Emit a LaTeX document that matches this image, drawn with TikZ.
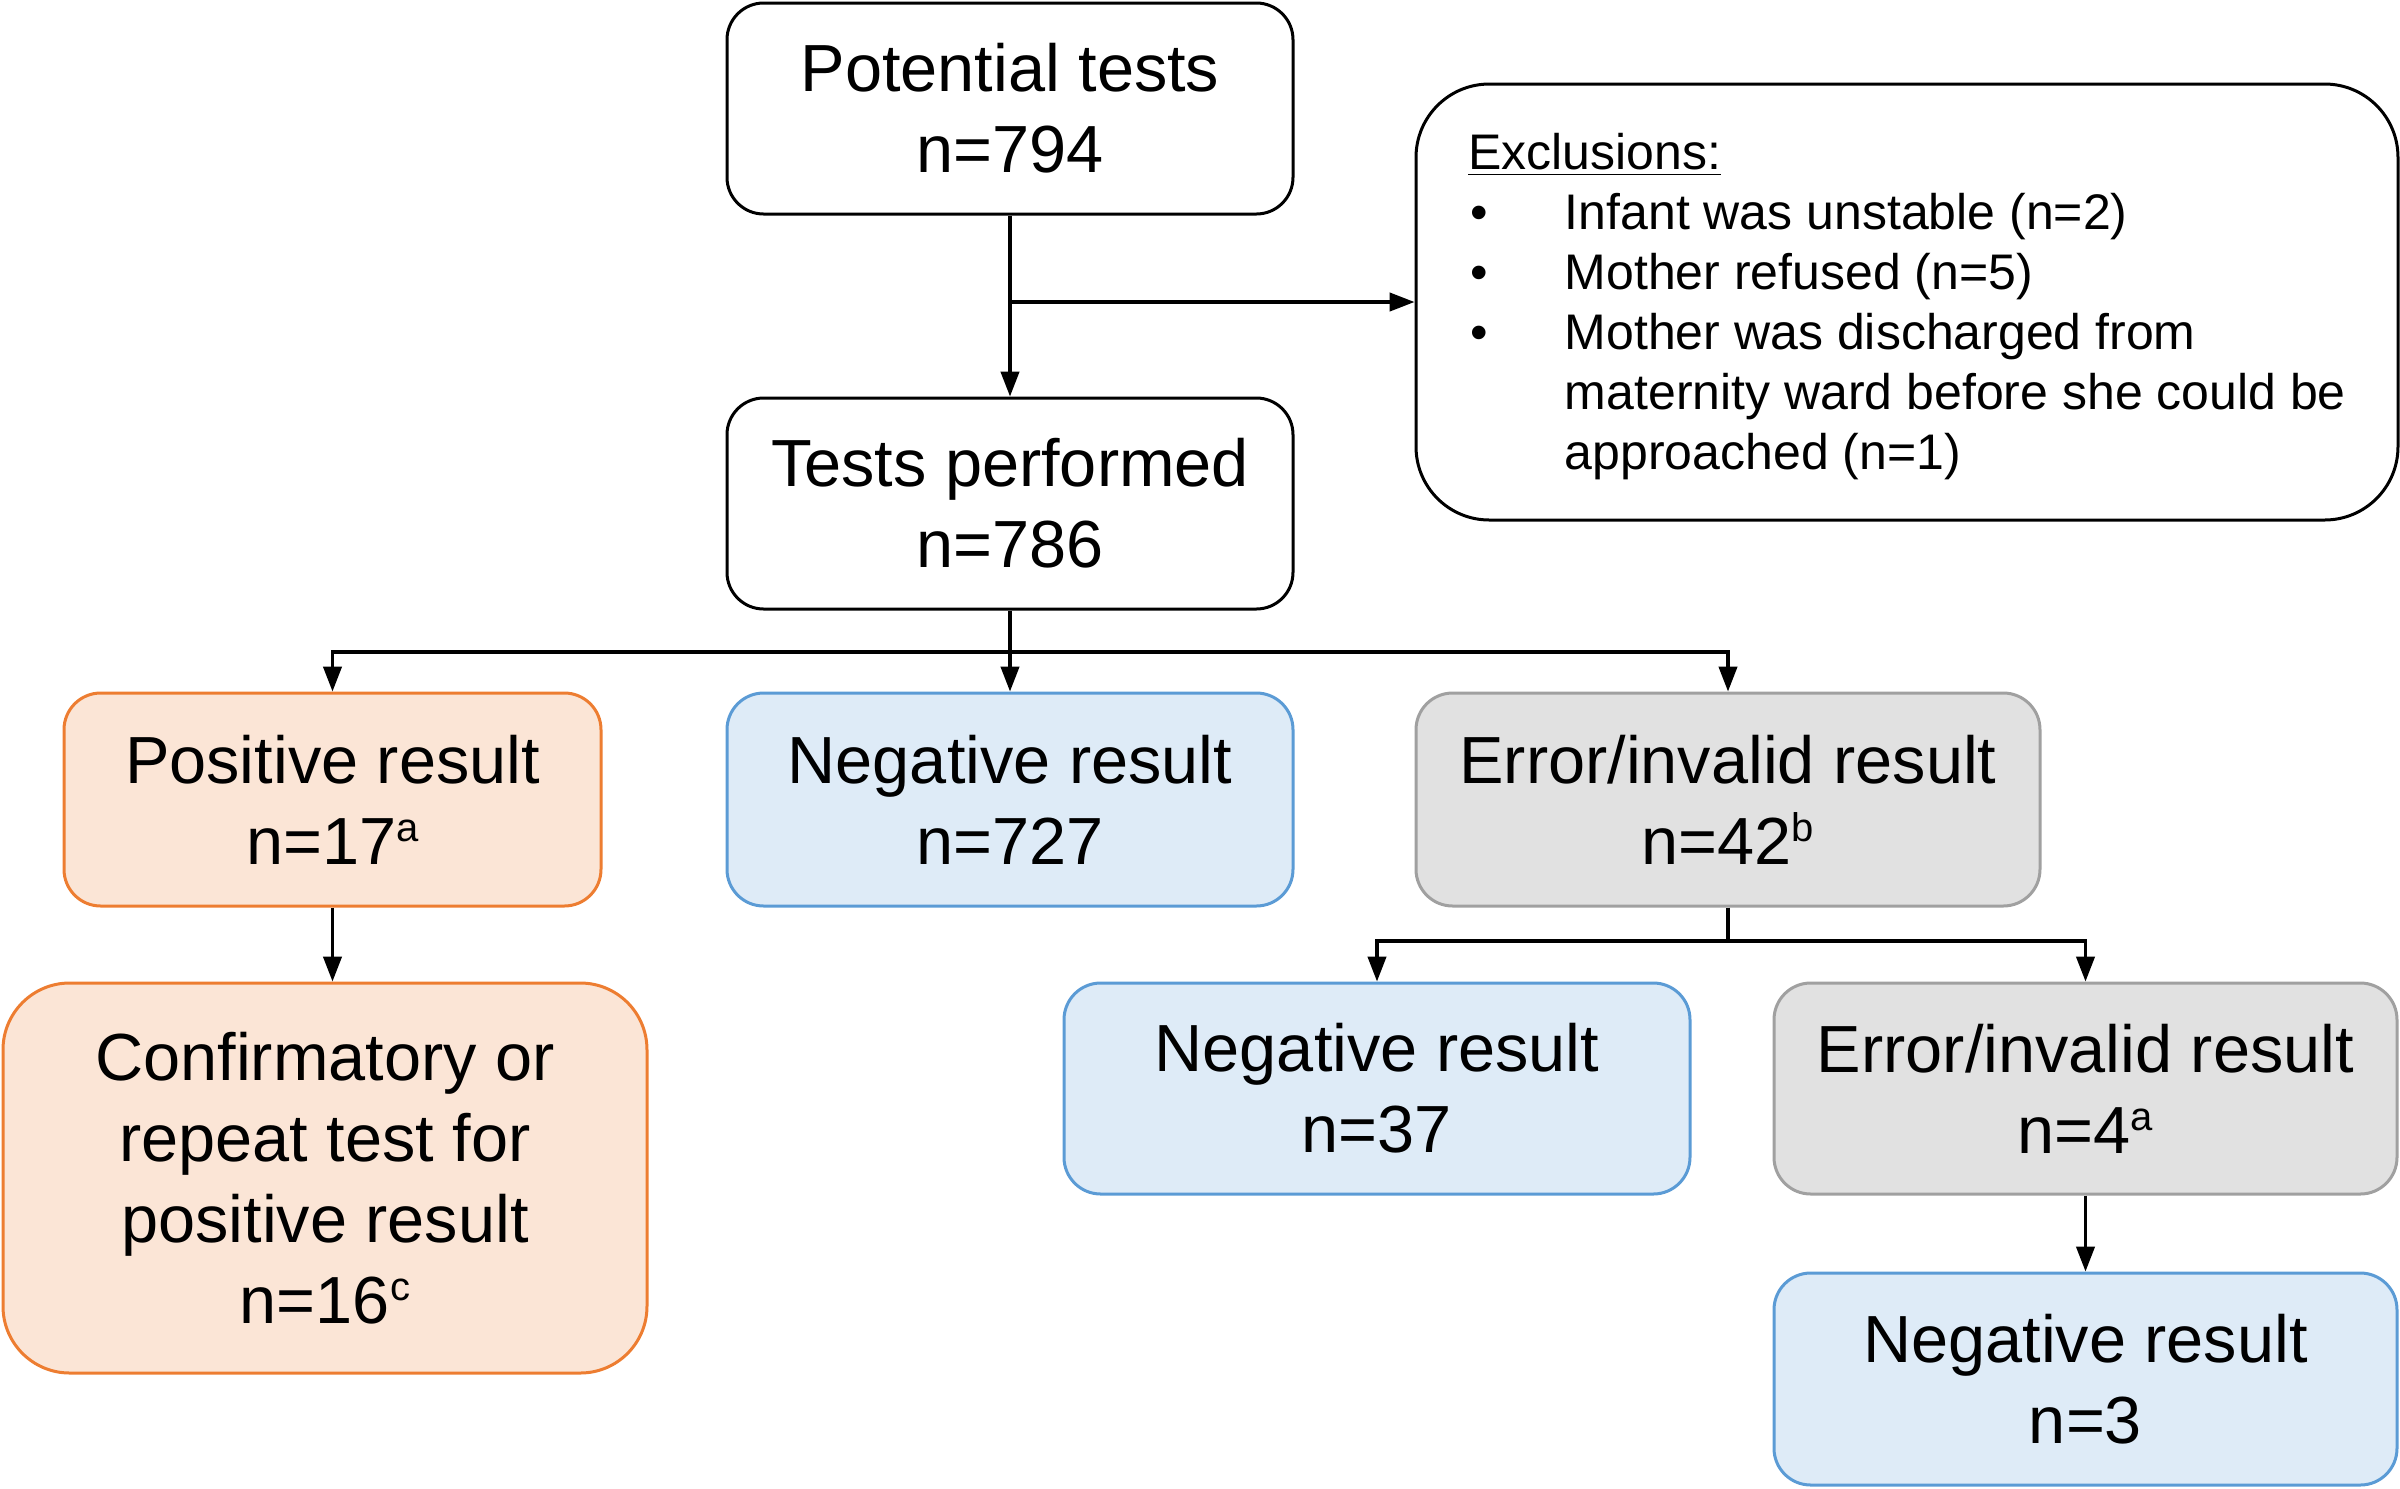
\documentclass[tikz,border=0pt]{standalone}
\usepackage{fontspec}
\setmainfont{Liberation Sans}
\usetikzlibrary{arrows.meta}
\definecolor{orgline}{HTML}{ED7D31}
\definecolor{orgfill}{HTML}{FBE5D6}
\definecolor{blueline}{HTML}{5B9BD5}
\definecolor{bluefill}{HTML}{DEEBF7}
\definecolor{grayline}{HTML}{A0A0A0}
\definecolor{grayfill}{HTML}{E1E1E1}
\newcommand{\bul}{\makebox[29pt][l]{\hspace{0.7pt}\textbullet}}
\newcommand{\ind}{\hspace*{29pt}}
\newcommand{\sups}[1]{\raisebox{6.8pt}{\fontsize{12}{12}\selectfont #1}}
\tikzset{
  box/.style={draw=black, line width=0.9pt, rounded corners=11pt, align=center,
    inner sep=0pt, font=\fontsize{20}{24.3}\selectfont},
  whitebox/.style={box, fill=white},
  orgbox/.style={box, draw=orgline, fill=orgfill},
  bluebox/.style={box, draw=blueline, fill=bluefill},
  graybox/.style={box, draw=grayline, fill=grayfill},
  exclbox/.style={box, rounded corners=22pt, align=left, font=\fontsize{15}{18}\selectfont},
  arr/.style={line width=1pt, -{Triangle[length=7.5pt,width=5.5pt]}},
  ln/.style={line width=1pt}
}
\begin{document}
\begin{tikzpicture}[x=0.3pt,y=-0.3pt]
\useasboundingbox (0,0) rectangle (2400,1488);
\node[whitebox, minimum width=169.8pt, minimum height=63.3pt] (pot) at (1010,108.5) {Potential tests\\n=794};
\node[exclbox, minimum width=294.6pt, minimum height=130.8pt] (excl) at (1907,302) {\rule{0pt}{13.7pt}\underline{Exclusions:}\\
\bul Infant was unstable (n=2)\\
\bul Mother refused (n=5)\\
\bul Mother was discharged from\\
\ind maternity ward before she could be\\
\ind approached (n=1)};
\node[whitebox, minimum width=169.8pt, minimum height=63.3pt] (perf) at (1010,503.5) {Tests performed\\n=786};
\node[orgbox, minimum width=161.1pt, minimum height=63.9pt] (pos) at (332.5,799.5) {Positive result\\n=17\sups{a}};
\node[bluebox, minimum width=169.8pt, minimum height=63.9pt] (neg) at (1010,799.5) {Negative result\\n=727};
\node[graybox, minimum width=187.2pt, minimum height=63.9pt] (err) at (1728,799.5) {Error/invalid result\\n=42\sups{b}};
\node[orgbox, rounded corners=20pt, minimum width=193.2pt, minimum height=117pt] (conf) at (325,1178) {Confirmatory or\\repeat test for\\positive result\\n=16\sups{c}};
\node[bluebox, minimum width=187.8pt, minimum height=63.3pt] (neg37) at (1377,1088.5) {Negative result\\n=37};
\node[graybox, minimum width=186.9pt, minimum height=63.3pt] (err4) at (2085.5,1088.5) {Error/invalid result\\n=4\sups{a}};
\node[bluebox, minimum width=186.9pt, minimum height=63.6pt] (neg3) at (2085.5,1379) {Negative result\\n=3};
% connectors
\draw[arr] (pot.south) -- (perf.north);
\coordinate (b1) at (pot.south |- excl.west);
\draw[arr] (b1) -- (excl.west);
\coordinate (j1) at (1010,652);
\draw[arr] (perf.south) -- (neg.north);
\draw[arr] (j1) -| (pos.north);
\draw[arr] (j1) -| (err.north);
\draw[arr] (pos.south) -- (pos.south |- conf.north);
\coordinate (j2) at (1728,941);
\draw[ln] (err.south) -- (j2);
\draw[arr] (j2) -| (neg37.north);
\draw[arr] (j2) -| (err4.north);
\draw[arr] (err4.south) -- (neg3.north);
\end{tikzpicture}
\end{document}
